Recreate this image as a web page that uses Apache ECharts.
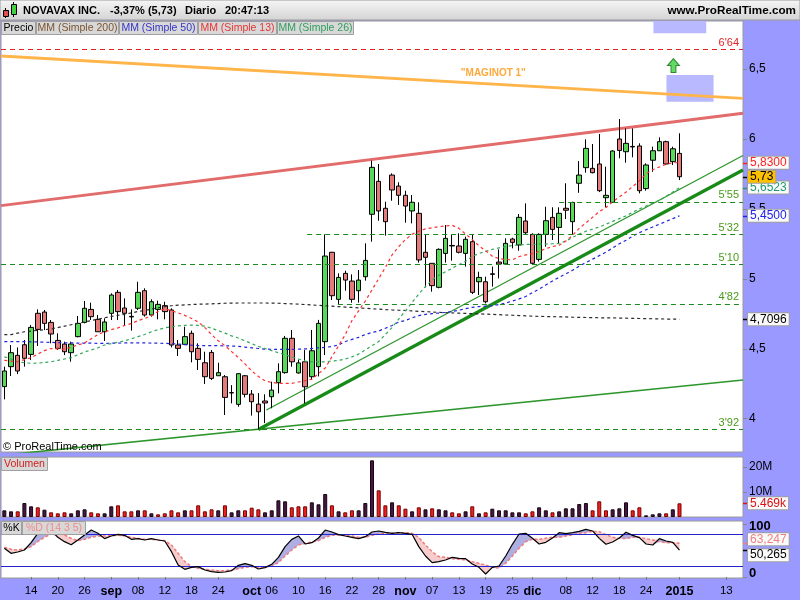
<!DOCTYPE html>
<html><head><meta charset="utf-8">
<script src="https://cdn.jsdelivr.net/npm/echarts@6/dist/echarts.min.js"></script>
<style>html,body{margin:0;padding:0;background:#9999ff;}#c{width:800px;height:600px;}</style>
</head><body><div id="c"></div>
<script>
// ---------------- DATA ----------------
const categories = [
'08-08','08-11','08-12','08-13','08-14','08-15','08-18','08-19','08-20','08-21','08-22','08-25','08-26','08-27','08-28','08-29',
'09-02','09-03','09-04','09-05','09-08','09-09','09-10','09-11','09-12','09-15','09-16','09-17','09-18','09-19','09-22','09-23','09-24','09-25','09-26','09-29','09-30',
'10-01','10-02','10-03','10-06','10-07','10-08','10-09','10-10','10-13','10-14','10-15','10-16','10-17','10-20','10-21','10-22','10-23','10-24','10-27','10-28','10-29','10-30','10-31',
'11-03','11-04','11-05','11-06','11-07','11-10','11-11','11-12','11-13','11-14','11-17','11-18','11-19','11-20','11-21','11-24','11-25','11-26','11-28',
'12-01','12-02','12-03','12-04','12-05','12-08','12-09','12-10','12-11','12-12','12-15','12-16','12-17','12-18','12-19','12-22','12-23','12-24','12-26','12-29','12-30','12-31',
'01-02','01-05','01-06','01-07','01-08','01-09','01-12','01-13','01-14','01-15'
];
const opens = [4.227,4.370,4.451,4.527,4.458,4.752,4.761,4.687,4.558,4.532,
4.470,4.585,4.687,4.780,4.709,4.620,4.752,4.902,4.790,4.730,
4.788,4.914,4.740,4.780,4.807,4.776,4.525,4.530,4.609,4.501,
4.398,4.472,4.305,4.298,4.184,4.100,4.305,4.174,4.102,4.124,
4.155,4.255,4.327,4.573,4.325,4.405,4.298,4.370,4.549,5.189,
4.852,5.038,4.983,4.914,5.014,5.461,5.697,5.504,5.742,5.663,
5.597,5.485,5.468,5.189,5.110,4.938,5.181,5.238,5.234,5.181,
5.265,4.978,4.978,5.035,5.119,5.105,5.284,5.241,5.413,5.317,
5.138,5.317,5.439,5.367,5.504,5.408,5.683,5.795,5.790,5.821,
5.580,5.546,6.000,5.909,5.947,5.950,5.645,5.848,5.916,5.981,
5.838,5.897];
const closes = [4.339,4.470,4.339,4.430,4.651,4.637,4.680,4.604,4.501,4.477,
4.532,4.680,4.788,4.728,4.620,4.690,4.883,4.764,4.752,4.726,
4.902,4.740,4.835,4.816,4.764,4.525,4.501,4.585,4.477,4.422,
4.298,4.286,4.327,4.150,4.182,4.320,4.172,4.119,4.047,4.110,
4.202,4.334,4.573,4.405,4.397,4.226,4.484,4.680,5.162,4.878,
5.009,4.990,4.852,4.990,5.131,5.797,5.485,5.408,5.635,5.597,
5.520,5.547,5.134,5.153,4.950,5.210,5.289,5.234,5.189,5.282,
4.902,5.009,4.835,5.031,5.105,5.253,5.260,5.439,5.329,5.110,
5.317,5.415,5.353,5.468,5.490,5.546,5.742,5.933,5.759,5.630,
5.597,5.914,5.918,5.969,5.943,5.630,5.814,5.916,5.981,5.821,
5.930,5.730];
const lows = [4.136,4.303,4.317,4.370,4.418,4.518,4.632,4.537,4.489,4.453,
4.406,4.580,4.680,4.704,4.620,4.554,4.704,4.704,4.668,4.628,
4.776,4.728,4.728,4.709,4.709,4.508,4.446,4.525,4.401,4.346,
4.246,4.274,4.305,4.024,4.107,4.083,4.150,4.020,3.922,3.966,
4.072,4.179,4.320,4.370,4.320,4.107,4.275,4.300,4.453,4.847,
4.819,4.914,4.828,4.828,4.986,5.265,5.415,5.308,5.558,5.528,
5.401,5.396,5.115,4.938,4.907,4.931,5.115,5.129,5.181,5.086,
4.890,4.883,4.823,4.943,5.002,5.098,5.217,5.200,5.313,5.105,
5.122,5.229,5.277,5.253,5.427,5.313,5.615,5.759,5.754,5.620,
5.511,5.546,5.862,5.831,5.869,5.611,5.630,5.765,5.916,5.814,
5.814,5.706];
const highs = [4.370,4.525,4.508,4.561,4.668,4.780,4.776,4.704,4.609,4.549,
4.549,4.733,4.840,4.828,4.740,4.716,4.895,4.919,4.859,4.780,
4.978,4.931,4.852,4.842,4.835,4.788,4.561,4.656,4.628,4.537,
4.477,4.489,4.398,4.310,4.238,4.322,4.310,4.203,4.181,4.172,
4.262,4.394,4.590,4.632,4.420,4.489,4.633,4.705,5.317,5.192,
5.038,5.057,5.031,5.062,5.253,5.845,5.821,5.551,5.754,5.690,
5.630,5.599,5.547,5.320,5.110,5.217,5.384,5.313,5.325,5.301,
5.313,5.050,5.014,5.086,5.210,5.289,5.293,5.463,5.539,5.325,
5.325,5.515,5.511,5.511,5.683,5.551,5.842,5.998,5.964,6.036,
5.802,5.920,6.143,6.076,6.076,5.969,5.826,5.945,6.012,5.988,
5.945,6.041];
const volumes = [2.67,2.27,2.27,5.6,4.27,3.87,2.93,1.87,1.47,1.87,
1.47,2.67,3.07,1.87,1.47,1.47,4.27,4.67,2.27,2.27,
2.67,2.67,1.47,1.07,1.47,2.67,1.87,2.67,2.67,4.67,
2.27,3.07,2.67,4.67,1.87,2.67,2.67,3.73,3.07,1.87,
2.67,6.67,6.27,3.87,4.27,4.27,5.87,5.07,9.2,4.67,
2.27,1.87,2.67,2.67,5.6,22.67,10.67,4.67,5.87,4.67,
3.33,2.27,3.87,3.07,3.47,3.07,2.67,1.87,1.47,2.27,
4.27,1.47,1.87,3.33,2.67,2.67,1.87,1.87,1.47,2.27,
3.87,2.67,1.87,2.27,3.47,3.47,5.2,5.6,2.67,6.27,
2.67,3.07,3.47,5.87,2.67,3.87,0.67,1.07,1.47,1.47,
3.07,5.469];
const ma200 = [4.60,4.60,4.61,4.62,4.625,4.63,4.635,4.64,4.65,4.66,
4.67,4.68,4.69,4.70,4.71,4.72,4.73,4.738,4.745,4.755,
4.765,4.772,4.782,4.792,4.80,4.806,4.81,4.812,4.815,4.817,
4.818,4.82,4.822,4.824,4.825,4.826,4.826,4.826,4.826,4.826,
4.825,4.824,4.822,4.82,4.818,4.815,4.812,4.809,4.806,4.803,
4.80,4.797,4.794,4.791,4.788,4.785,4.782,4.779,4.776,4.774,
4.772,4.769,4.766,4.764,4.761,4.759,4.757,4.755,4.753,4.751,
4.75,4.748,4.746,4.744,4.742,4.74,4.738,4.736,4.734,4.732,
4.73,4.729,4.728,4.727,4.726,4.724,4.723,4.722,4.721,4.72,
4.72,4.719,4.718,4.717,4.716,4.715,4.714,4.713,4.712,4.711,
4.710,4.7096];
const ma50 = [4.55,4.55,4.55,4.55,4.548,4.547,4.545,4.544,4.542,4.541,
4.54,4.539,4.538,4.538,4.537,4.537,4.538,4.539,4.54,4.541,
4.541,4.54,4.539,4.538,4.537,4.535,4.532,4.528,4.524,4.521,
4.52,4.52,4.52,4.519,4.518,4.515,4.51,4.505,4.50,4.496,
4.494,4.494,4.494,4.494,4.495,4.497,4.50,4.504,4.508,4.515,
4.525,4.55,4.565,4.58,4.60,4.615,4.625,4.645,4.665,4.69,
4.70,4.72,4.735,4.745,4.75,4.754,4.758,4.765,4.774,4.785,
4.795,4.80,4.803,4.806,4.815,4.826,4.84,4.855,4.872,4.90,
4.925,4.955,4.983,5.01,5.035,5.06,5.09,5.115,5.14,5.165,
5.19,5.22,5.25,5.275,5.305,5.33,5.35,5.37,5.39,5.41,
5.43,5.45];
const ma13 = [4.415,4.41,4.405,4.42,4.435,4.46,4.485,4.50,4.497,4.494,
4.51,4.525,4.54,4.57,4.60,4.62,4.635,4.648,4.665,4.678,
4.70,4.715,4.735,4.765,4.785,4.77,4.755,4.737,4.715,4.69,
4.65,4.60,4.555,4.52,4.478,4.435,4.39,4.34,4.30,4.268,
4.257,4.251,4.251,4.251,4.26,4.27,4.28,4.32,4.36,4.44,
4.52,4.60,4.70,4.77,4.84,4.92,5.00,5.08,5.17,5.23,
5.28,5.318,5.34,5.357,5.365,5.372,5.378,5.382,5.36,5.32,
5.28,5.235,5.20,5.16,5.145,5.137,5.135,5.158,5.17,5.18,
5.195,5.215,5.23,5.24,5.27,5.31,5.36,5.40,5.44,5.48,
5.51,5.55,5.585,5.62,5.66,5.70,5.75,5.78,5.80,5.82,
5.83,5.83];
const ma26 = [4.44,4.425,4.405,4.398,4.394,4.395,4.40,4.405,4.415,4.425,
4.435,4.455,4.475,4.49,4.505,4.525,4.535,4.545,4.555,4.57,
4.585,4.60,4.62,4.635,4.648,4.656,4.662,4.666,4.668,4.665,
4.66,4.645,4.628,4.61,4.59,4.575,4.555,4.535,4.515,4.50,
4.485,4.47,4.455,4.44,4.425,4.41,4.405,4.405,4.405,4.41,
4.415,4.425,4.44,4.46,4.49,4.52,4.55,4.60,4.65,4.71,
4.77,4.83,4.89,4.945,4.99,5.025,5.05,5.075,5.10,5.125,
5.16,5.18,5.195,5.21,5.22,5.23,5.238,5.242,5.245,5.246,
5.247,5.248,5.25,5.252,5.27,5.295,5.32,5.34,5.355,5.37,
5.39,5.41,5.43,5.45,5.475,5.50,5.52,5.54,5.56,5.59,
5.62,5.6523];
const stochK = [53.8,44.4,46.9,50.6,64.4,81.9,89.4,88.1,74.4,66.3,
60.6,69.4,78.8,88.1,81.9,71.9,76.9,80.0,78.1,70.6,
71.9,69.4,71.9,69.4,67.5,47.5,22.5,14.4,18.1,19.4,
13.1,10.0,8.8,9.4,11.9,21.9,25.0,21.9,15.0,17.5,
23.8,36.9,56.9,70.6,76.9,61.9,64.4,73.1,88.1,84.4,
79.4,76.9,74.4,71.9,75.6,84.4,86.3,83.8,81.9,83.1,
81.9,80.0,56.9,39.4,26.9,28.8,31.9,36.9,35.0,34.4,
24.4,18.1,5.6,18.1,20.6,39.4,61.3,80.6,81.9,72.5,
61.9,65.0,73.1,83.1,81.3,83.1,85.6,89.4,86.3,72.5,
61.3,65.6,73.1,83.8,78.1,73.8,61.9,60.0,71.9,67.5,
65.0,50.265];
const stochD = [55.6,51.9,50.6,52.5,56.9,66.3,74.4,80.6,81.9,78.8,
72.5,68.1,70.6,74.4,76.9,76.9,77.5,78.1,76.9,74.4,
72.5,70.6,70.6,69.4,68.1,60.0,44.4,28.8,19.4,16.3,
14.4,13.1,11.9,11.9,13.1,15.6,18.1,19.4,18.8,18.8,
20.6,26.9,39.4,50.6,60.0,63.1,65.6,68.1,74.4,78.1,
78.8,78.1,76.9,74.4,74.4,78.1,80.6,81.9,81.9,83.1,
83.1,81.9,74.4,60.0,47.5,38.1,36.9,34.4,33.1,31.9,
28.8,25.6,22.5,18.1,16.9,25.6,39.4,53.8,66.3,70.6,
70.6,72.5,74.4,74.4,76.9,78.8,81.9,83.1,85.6,85.0,
79.4,74.4,72.5,71.9,74.4,74.4,71.9,69.4,66.3,64.4,
64.4,63.247];
const tickLabels = {'08-14':'14','08-20':'20','08-26':'26','09-02':'sep','09-08':'08','09-12':'12','09-18':'18','09-24':'24',
'10-01':'oct','10-06':'06','10-10':'10','10-16':'16','10-22':'22','10-28':'28','11-03':'nov','11-07':'07','11-13':'13',
'11-19':'19','11-25':'25','12-01':'dic','12-08':'08','12-12':'12','12-18':'18','12-24':'24','01-02':'2015','01-13':'13'};
const monthLabels = ['sep','oct','nov','dic','2015'];
const priceTicks = [4,4.5,5,5.5,6,6.5];
const volumeTicks = [10,20];
const stochTicks = [0,100];
const stochBands = [20,80];
// drawings in data space: [slot index, price]
const maginotLine = [[-0.5,6.594],[110.5,6.291]];
const resistanceLine = [[-0.5,5.523],[110.5,6.184]];
const trendThick = [[38,3.92],[110.5,5.778]];
const trendThin = [[39.2,4.06],[110.5,5.882]];
const trendLow = [[-0.5,3.735],[110.5,4.274]];
const levelValues = [6.64,5.55,5.32,5.10,4.82,3.92];
const levelStarts = [-0.5,83.0,45.3,-0.5,49.9,-0.5];
const levelTexts = ["6'64","5'55","5'32","5'10","4'82","3'92"];
const boxes = [[[97.1,6.845],[105.0,6.757]],[[99.05,6.458],[106.1,6.267]]];
const arrowPoint = [100.1,6.526];
const maginotText = '"MAGINOT 1"';
const maginotAt = [73.15,6.473];
const xEnd = 110.5;

// ---------------- CHART ----------------
const FONT = 'Liberation Sans, Arial, sans-serif';
const chart = echarts.init(document.getElementById('c'));
const candleData = opens.map((o,i)=>[o,closes[i],lows[i],highs[i]]);
const volData = volumes.map((v,i)=>{
  const up = i===0 || closes[i]>=closes[i-1];
  return {value:v,itemStyle:{color: up?'#45173f':'#ee2020', borderColor: up?'#1a0516':'#7a0000'}};
});
const stBase = stochK.map((k,i)=>Math.min(k,stochD[i]));
const stUp = stochK.map((k,i)=>Math.max(k-stochD[i],0));
const stDn = stochK.map((k,i)=>Math.max(stochD[i]-k,0));
const gridBase = {left:1,right:57,show:true,backgroundColor:'#fff',borderColor:'#9a9a9a',borderWidth:1};
const hiddenCat = (g)=>({type:'category',gridIndex:g,data:categories,boundaryGap:true,axisLine:{show:false},axisTick:{show:false},axisLabel:{show:false},splitLine:{show:false}});
const lineSeries = (data,color,width,z)=>({type:'line',xAxisIndex:1,yAxisIndex:0,data:data,showSymbol:false,symbol:'none',silent:true,z:z||2,lineStyle:{color:color,width:width}});
const maSeries = (data,color)=>({type:'line',xAxisIndex:0,yAxisIndex:0,data:data,showSymbol:false,symbol:'none',silent:true,z:4,lineStyle:{color:color,width:1.2,type:[3,3]}});
const rightAxis = (g,min,max,vals,fmtFn,lab)=>({type:'value',gridIndex:g,position:'right',min:min,max:max,splitLine:{show:false},axisLine:{show:false},
  axisTick:{show:false},axisLabel:Object.assign({customValues:vals,margin:6,fontSize:12,color:'#000',formatter:fmtFn},lab||{})});

const option = {
  animation:false,
  backgroundColor:'#9999ff',
  textStyle:{fontFamily:FONT},
  grid:[
    Object.assign({top:21,height:431},gridBase),
    Object.assign({top:457,height:60},gridBase),
    Object.assign({top:521,height:57},gridBase)
  ],
  xAxis:[
    hiddenCat(0),
    {type:'value',gridIndex:0,min:-0.5,max:xEnd,show:false},
    hiddenCat(1),
    {type:'category',gridIndex:2,data:categories,boundaryGap:true,axisLine:{show:false},splitLine:{show:false},
      axisTick:{show:true,alignWithLabel:true,length:3,interval:(i,v)=>!!tickLabels[v],lineStyle:{color:'#777'}},
      axisLabel:{interval:(i,v)=>!!tickLabels[v],margin:7,fontSize:11.5,color:'#000',
        formatter:(v)=>{const t=tickLabels[v]||'';return monthLabels.indexOf(t)>=0?'{b|'+t+'}':t;},
        rich:{b:{fontWeight:'bold',fontSize:12.5,color:'#000'}}}}
  ],
  yAxis:[
    rightAxis(0,3.759,6.845,priceTicks,(v)=>String(v).replace('.',',')),
    rightAxis(1,0,24,volumeTicks,(v)=>v+'M'),
    rightAxis(2,-1.9,105,stochTicks,(v)=>v===100?'{t|100}':'{z|0}',
      {fontSize:13,fontWeight:'bold',rich:{t:{fontSize:13,fontWeight:'bold',padding:[5,0,0,0]},z:{fontSize:13,fontWeight:'bold',padding:[0,0,8,0]}}})
  ],
  series:[
    lineSeries(maginotLine,'#ffb54a',3,2),
    lineSeries(resistanceLine,'#e26b6b',3,2),
    lineSeries(trendLow,'#2c962c',1.6,2),
    lineSeries(trendThin,'#2c962c',1.3,2),
    lineSeries(trendThick,'#178a17',3.2,2),
    {type:'line',xAxisIndex:1,yAxisIndex:0,data:[],silent:true,z:4,
      markLine:{symbol:['none','none'],silent:true,animation:false,
        data:levelValues.map((v,k)=>{
          const col = k===0?'#e52222':'#1d8a1d';
          return [{coord:[levelStarts[k],v],lineStyle:{color:col,width:1.2,type:[5,4]},
                   label:{show:true,position:'insideEndTop',formatter:levelTexts[k],color:k===0?'#e52222':'#4a9a1a',fontSize:11,distance:[4,1],fontFamily:FONT}},
                  {coord:[xEnd,v]}];
        })}},
    {type:'candlestick',xAxisIndex:0,yAxisIndex:0,data:candleData,barWidth:5,z:3,silent:true,
      itemStyle:{color:'#58d858',color0:'#e57a7a',borderColor:'#000',borderColor0:'#000',borderWidth:1}},
    maSeries(ma200,'#2a2a2a'),
    maSeries(ma50,'#2424dd'),
    maSeries(ma26,'#33a85a'),
    maSeries(ma13,'#ff3030'),
    {type:'line',xAxisIndex:1,yAxisIndex:0,data:[],silent:true,z:6,
      markArea:{silent:true,itemStyle:{color:'#b9b9ff'},data:boxes.map(b=>[{coord:b[0]},{coord:b[1]}])}},
    {type:'scatter',xAxisIndex:1,yAxisIndex:0,data:[arrowPoint],z:7,silent:true,
      symbol:'path://M6,0 L12,7 L8.5,7 L8.5,14 L3.5,14 L3.5,7 L0,7 Z',symbolSize:[12,14],
      itemStyle:{color:'#3bd23b',borderColor:'#136d13',borderWidth:1}},
    {type:'bar',xAxisIndex:2,yAxisIndex:1,data:volData,barWidth:4,silent:true,itemStyle:{borderWidth:1}},
    {type:'line',xAxisIndex:3,yAxisIndex:2,data:stBase,stack:'st',symbol:'none',silent:true,lineStyle:{opacity:0}},
    {type:'line',xAxisIndex:3,yAxisIndex:2,data:stUp,stack:'st',symbol:'none',silent:true,lineStyle:{opacity:0},areaStyle:{color:'rgba(140,140,215,0.7)',opacity:1}},
    {type:'line',xAxisIndex:3,yAxisIndex:2,data:stDn,stack:'st',symbol:'none',silent:true,lineStyle:{opacity:0},areaStyle:{color:'rgba(242,170,170,0.6)',opacity:1}},
    {type:'line',xAxisIndex:3,yAxisIndex:2,data:stochD,symbol:'none',silent:true,z:4,lineStyle:{color:'#f07a7a',width:1.5,type:[3,2]}},
    {type:'line',xAxisIndex:3,yAxisIndex:2,data:stochK,symbol:'none',silent:true,z:5,lineStyle:{color:'#000',width:1.2},
      markLine:{symbol:['none','none'],silent:true,label:{show:false},lineStyle:{color:'#2323d0',width:1.2,type:'solid'},
        data:stochBands.map(v=>({yAxis:v}))}}
  ]
};
chart.setOption(option);

// ---------------- overlay texts/tags (positions from the chart's own scales) ----------------
const px = (x,y)=>chart.convertToPixel({xAxisIndex:1,yAxisIndex:0},[x,y]);
const yPrice = (v)=>chart.convertToPixel({yAxisIndex:0},v);
const yVol = (v)=>chart.convertToPixel({yAxisIndex:1},v);
const ySto = (v)=>chart.convertToPixel({yAxisIndex:2},v);
const g = [];
// header bar
g.push({type:'rect',shape:{x:0,y:0,width:800,height:20},style:{fill:new echarts.graphic.LinearGradient(0,0,0,1,[{offset:0,color:'#f6f6f6'},{offset:1,color:'#d3d3d3'}]),stroke:'#9a9a9a',lineWidth:1},z:100});
// icon
g.push({type:'line',shape:{x1:5.5,y1:8,x2:5.5,y2:18},style:{stroke:'#000',lineWidth:1},z:101});
g.push({type:'rect',shape:{x:3.5,y:10.5,width:5,height:6},style:{fill:'#e05050',stroke:'#000',lineWidth:1},z:102});
g.push({type:'line',shape:{x1:13.5,y1:2,x2:13.5,y2:17},style:{stroke:'#000',lineWidth:1},z:101});
g.push({type:'rect',shape:{x:11.5,y:4.5,width:5,height:10},style:{fill:'#40d040',stroke:'#000',lineWidth:1},z:102});
const hdr = (x,t)=>g.push({type:'text',x:x,y:11,style:{text:t,font:'bold 11px '+FONT,fill:'#000',verticalAlign:'middle',align:'left'},z:103});
hdr(23,'NOVAVAX INC.'); hdr(110,'-3,37% (5,73)'); hdr(185,'Diario'); hdr(225,'20:47:13');
g.push({type:'text',x:796,y:11,style:{text:'www.ProRealTime.com',font:'bold 11.7px '+FONT,fill:'#000',verticalAlign:'middle',align:'right'},z:103});
// legend tabs
const tab = (x,w,y,t,color)=>{
  g.push({type:'rect',shape:{x:x+0.5,y:y+0.5,width:w,height:13},style:{fill:'#d8d8d8',stroke:'#a0a0a0',lineWidth:1},z:90});
  g.push({type:'text',x:x+0.5+w/2,y:y+7.5,style:{text:t,font:'10.5px '+FONT,fill:color,align:'center',verticalAlign:'middle'},z:91});
};
tab(1,34,21,'Precio','#000');
tab(36,82,21,'MM (Simple 200)','#7a5430');
tab(119,78,21,'MM (Simple 50)','#3434c8');
tab(198,78,21,'MM (Simple 13)','#e83434');
tab(277,76,21,'MM (Simple 26)','#2fa05c');
tab(1,46,457,'Volumen','#d02020');
tab(1,20,521,'%K','#000');
tab(22,63,521,'%D (14 3 5)','#f08a8a');
g.push({type:'text',x:3,y:447,style:{text:'\u00a9 ProRealTime.com',font:'11px '+FONT,fill:'#000',verticalAlign:'middle'},z:90});
// maginot label
const mp = px(maginotAt[0],maginotAt[1]);
g.push({type:'text',x:mp[0],y:mp[1],style:{text:maginotText,font:'bold 10px '+FONT,fill:'#ffa83a',align:'center',verticalAlign:'middle'},z:90});
// axis ticks on the right
const rTick = (y)=>g.push({type:'line',shape:{x1:743,y1:Math.round(y)+0.5,x2:747,y2:Math.round(y)+0.5},style:{stroke:'#888',lineWidth:1},z:94});
priceTicks.forEach(v=>rTick(yPrice(v)));
volumeTicks.forEach(v=>rTick(yVol(v)));
stochTicks.forEach(v=>rTick(ySto(v)));
// value tags
const tag = (y,t,color,bg,tick,dy)=>{
  g.push({type:'line',shape:{x1:743,y1:Math.round(y)+0.5,x2:748,y2:Math.round(y)+0.5},style:{stroke:tick,lineWidth:1.5},z:95});
  g.push({type:'text',x:748,y:y+(dy||0),style:{text:t,font:'12px '+FONT,fill:color,align:'left',verticalAlign:'middle',
    backgroundColor:bg,borderColor:'#a0a0a0',borderWidth:1,padding:[0,2,0,2]},z:96});
};
const fmt = (v,d)=>v.toFixed(d).replace('.',',');
const last = closes.length-1;
tag(yPrice(ma13[last]),fmt(ma13[last],4),'#ff2020','#fafafa','#ff2020');
tag(yPrice(ma26[last]),fmt(ma26[last],4),'#1f9a70','#fafafa','#1f9a70');
tag(yPrice(ma50[last]),fmt(ma50[last],4),'#2020ee','#fafafa','#2020ee');
tag(yPrice(ma200[last]),fmt(ma200[last],4),'#000','#fafafa','#000');
tag(yPrice(closes[last]),fmt(closes[last],2),'#000','#ffc000','#000');
tag(yVol(volumes[last]),volumes[last].toFixed(3)+'k','#e01010','#fafafa','#e01010');
tag(ySto(stochD[last]),fmt(stochD[last],3),'#f08080','#fafafa','#f08080',-4);
tag(ySto(stochK[last]),fmt(stochK[last],3),'#000','#fafafa','#000',5);
chart.setOption({graphic:g});
</script></body></html>
